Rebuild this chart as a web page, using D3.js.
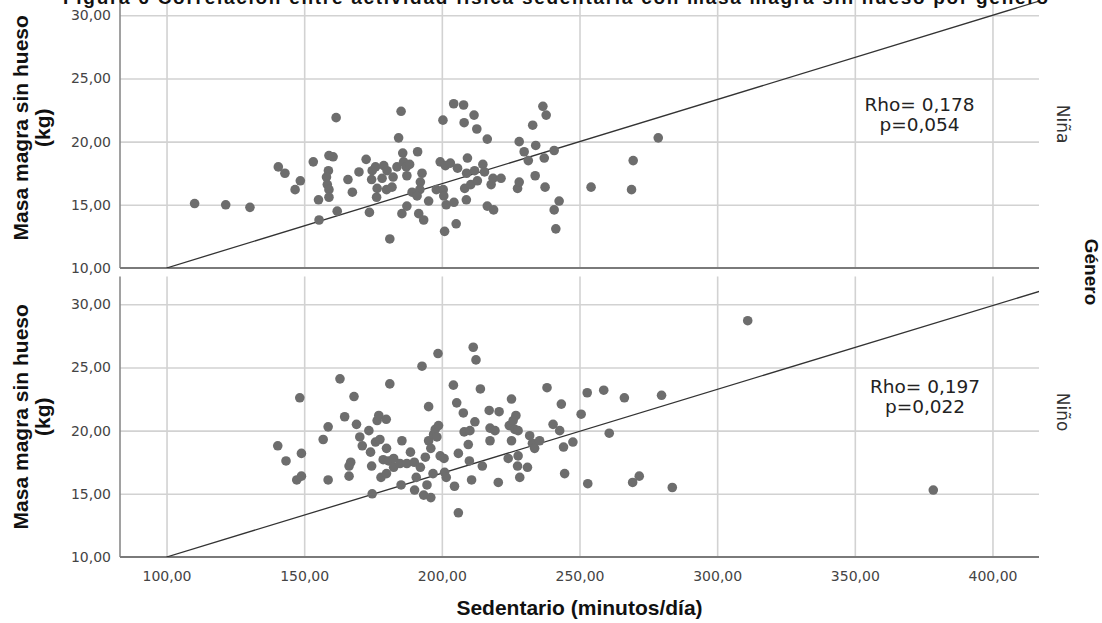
<!DOCTYPE html>
<html><head><meta charset="utf-8">
<script src="https://cdn.jsdelivr.net/npm/d3@7"></script>
<style>
html,body{margin:0;padding:0;background:#fff;}
svg{display:block;}
</style></head>
<body>
<div id="chart"></div>
<script>
// ---- Data ----
const titleText = "Figura 6 Correlación entre actividad física sedentaria con masa magra sin hueso por género";
const xTicks = [100, 150, 200, 250, 300, 350, 400];
const yTicks = [10, 15, 20, 25, 30];
const panels = ["Niña", "Niño"];
const rhoLabels = ["Rho= 0,178", "Rho= 0,197"];
const pLabels = ["p=0,054", "p=0,022"];
const rhoPos = [[373.5, 22.95], [375.5, 23.5]];

const ninaPoints = [
[110.2,15.1],[121.5,15.0],[130.3,14.8],[140.6,18.0],[143.0,17.5],[148.6,16.9],[146.7,16.2],[153.3,18.4],
[161.6,21.9],[159.0,18.9],[160.5,18.8],[158.8,17.7],[158.1,17.2],[158.4,16.6],[159.0,16.2],[159.0,15.6],
[155.2,15.4],[155.4,13.8],[162.0,14.5],[165.9,17.0],[167.5,16.0],[169.9,17.6],[172.5,18.6],[173.7,14.4],
[174.7,17.7],[175.9,18.0],[174.5,17.0],[176.5,16.3],[176.3,15.6],[178.3,17.1],[178.9,18.1],[180.1,17.7],
[179.9,16.2],[181.9,16.4],[181.1,12.3],[182.3,17.2],[183.7,18.0],[184.3,20.3],[185.2,22.4],[185.8,19.1],
[186.1,18.4],[187.1,18.0],[188.3,18.2],[187.3,17.3],[185.5,14.3],[187.3,14.9],[189.2,16.0],[191.2,19.2],
[192.8,17.5],[192.2,16.8],[192.0,16.2],[191.0,15.7],[191.6,14.3],[193.4,13.8],[195.2,15.3],[198.0,16.2],
[199.4,18.4],[200.4,21.7],[201.3,18.1],[203.1,18.3],[204.3,23.0],[207.9,22.9],[211.7,22.1],[208.1,21.5],
[212.7,21.0],[216.5,20.2],[205.7,17.9],[209.3,18.7],[209.0,17.5],[200.5,16.2],[200.7,15.7],[201.6,15.0],
[204.4,15.2],[201.0,12.9],[205.2,13.5],[208.3,16.3],[208.9,15.4],[210.5,16.6],[211.9,17.7],[212.9,16.9],
[214.9,18.2],[215.5,17.6],[216.5,14.9],[218.8,14.6],[217.9,16.6],[218.6,17.1],[221.5,17.1],[227.5,16.3],
[228.1,16.8],[228.1,20.0],[229.9,19.2],[231.4,18.5],[233.0,21.3],[234.1,19.7],[233.9,17.3],[236.7,22.8],
[237.9,22.1],[237.2,18.7],[240.8,19.3],[237.5,16.4],[242.6,15.3],[240.8,14.6],[241.4,13.1],[254.2,16.4],
[269.5,18.5],[268.9,16.2],[278.6,20.3]
];

const ninoPoints = [
[140.4,18.8],[143.4,17.6],[148.4,22.6],[149.0,18.2],[147.3,16.1],[149.0,16.4],[158.7,16.1],[156.9,19.3],
[158.7,20.3],[163.0,24.1],[164.7,21.1],[168.1,22.7],[169.0,20.5],[166.9,17.5],[166.3,17.2],[166.3,16.4],
[170.2,19.5],[171.1,18.8],[173.5,20.0],[174.1,18.3],[174.5,17.2],[174.7,15.0],[175.9,19.1],[177.5,19.3],
[176.5,20.8],[177.1,21.2],[179.8,20.9],[181.1,23.7],[179.9,18.6],[178.7,17.7],[180.7,17.6],[177.9,16.3],
[179.9,16.6],[182.5,17.1],[182.5,17.8],[185.5,19.2],[185.2,15.7],[184.8,17.4],[187.3,17.4],[188.6,18.3],
[190.0,17.5],[190.7,16.3],[190.1,15.3],[192.8,25.1],[193.4,14.9],[196.0,14.7],[194.6,15.7],[192.2,17.1],
[194.0,17.9],[195.2,21.9],[195.2,19.2],[196.0,18.6],[197.0,19.7],[197.6,20.1],[198.8,20.4],[198.2,19.5],
[196.8,16.6],[199.4,18.0],[200.8,17.8],[198.6,26.1],[211.4,26.6],[212.4,25.6],[204.2,23.6],[205.4,22.2],
[207.8,21.4],[208.1,19.9],[210.2,20.0],[209.6,18.9],[212.0,20.7],[214.0,23.3],[206.0,18.2],[201.0,16.7],
[201.6,16.3],[204.6,15.6],[206.0,13.5],[210.0,17.6],[210.8,16.1],[214.7,17.2],[217.2,21.6],[220.8,21.5],
[217.5,20.2],[219.3,20.0],[217.5,19.2],[220.5,15.9],[224.5,20.4],[225.3,22.5],[226.9,21.2],[225.9,20.8],
[226.5,20.1],[227.7,20.0],[225.3,19.2],[224.1,17.8],[227.7,18.0],[227.5,17.2],[228.3,16.3],[231.1,17.1],
[231.9,19.6],[232.9,19.0],[233.7,18.6],[235.5,19.2],[238.2,23.4],[240.4,20.5],[242.8,20.0],[243.4,22.1],
[244.2,18.7],[247.6,19.1],[244.6,16.6],[250.6,21.3],[252.8,23.0],[253.0,15.8],[258.8,23.2],[260.8,19.8],
[266.3,22.6],[269.3,15.9],[271.7,16.4],[279.8,22.8],[283.7,15.5],[311.1,28.7],[378.5,15.3]
];

// fit lines (start/end in data units)
const fitNina = [[100, 10], [420, 31.33]];
const fitNino = [[100, 10], [420, 31.22]];

const seriesPoints = [ninaPoints, ninoPoints];
const seriesFits = [fitNina, fitNino];

// ---- Layout ----
const W = 1102, H = 623;
const left = 120, right = 1039;
const panelTop = [-12.5, 276.5];
const panelH = 280.5;

const svg = d3.select("#chart").append("svg").attr("width", W).attr("height", H)
  .style("font-family", "'DejaVu Sans', sans-serif");
svg.append("rect").attr("width", W).attr("height", H).attr("fill", "#fff");

const x = d3.scaleLinear().domain([83.1, 416.9]).range([left, right]);

panels.forEach((name, i) => {
  const top = panelTop[i];
  const y = d3.scaleLinear().domain([10, 32.2]).range([top + panelH, top]);
  const g = svg.append("g");

  const clipId = "clip" + i;
  svg.append("clipPath").attr("id", clipId).append("rect")
    .attr("x", left).attr("y", top).attr("width", right - left).attr("height", panelH);

  // vertical grid
  g.append("g").attr("transform", `translate(0,${top + panelH})`)
    .call(d3.axisBottom(x).tickValues(xTicks).tickSize(-panelH).tickFormat(""))
    .call(s => s.select(".domain").remove())
    .call(s => s.selectAll(".tick line").attr("stroke", "#d2d2d2").attr("stroke-width", 1.6));

  // horizontal grid
  g.append("g").attr("transform", `translate(${left},0)`)
    .call(d3.axisLeft(y).tickValues(yTicks.filter(v => v > 10)).tickSize(-(right - left)).tickFormat(""))
    .call(s => s.select(".domain").remove())
    .call(s => s.selectAll(".tick line").attr("stroke", "#d2d2d2").attr("stroke-width", 1.6));

  // y tick labels
  g.append("g").attr("transform", `translate(${left},0)`)
    .call(d3.axisLeft(y).tickValues(yTicks).tickSize(0).tickPadding(9)
      .tickFormat(d => d3.format(".2f")(d).replace(".", ",")))
    .call(s => s.select(".domain").remove())
    .call(s => s.selectAll("text").attr("fill", "#444").style("font-size", "14px")
      .style("font-family", "'DejaVu Sans', sans-serif"));

  // left spine
  g.append("line").attr("x1", left).attr("x2", left).attr("y1", top).attr("y2", top + panelH)
    .attr("stroke", "#8a8a8a").attr("stroke-width", 1.6);
  // bottom axis line
  g.append("line").attr("x1", left).attr("x2", right).attr("y1", top + panelH).attr("y2", top + panelH)
    .attr("stroke", "#7a7a7a").attr("stroke-width", 2);

  // fit line
  const line = d3.line().x(d => x(d[0])).y(d => y(d[1]));
  g.append("path").datum(seriesFits[i]).attr("d", line)
    .attr("clip-path", `url(#${clipId})`)
    .attr("fill", "none").attr("stroke", "#333").attr("stroke-width", 1.3);

  // points
  g.append("g").selectAll("circle").data(seriesPoints[i]).join("circle")
    .attr("cx", d => x(d[0])).attr("cy", d => y(d[1])).attr("r", 4.8)
    .attr("fill", "#6d6d6d");

  // annotation
  const ax = x(rhoPos[i][0]), ay = y(rhoPos[i][1]);
  const t = g.append("text").attr("x", ax).attr("y", ay).attr("text-anchor", "middle")
    .style("font-size", "18.5px").attr("fill", "#222");
  t.append("tspan").attr("x", ax).attr("dy", "0.35em").text(rhoLabels[i]);
  t.append("tspan").attr("x", ax).attr("dy", 20).text(pLabels[i]);

  // y title (two lines)
  const cy = top + panelH / 2;
  g.append("text").attr("transform", `translate(21,${cy}) rotate(-90)`)
    .attr("text-anchor", "middle").attr("dy", "0.35em")
    .style("font-family", "'Liberation Sans', Arial, sans-serif").style("font-weight", "bold")
    .style("font-size", "21px").attr("fill", "#111").text("Masa magra sin hueso");
  g.append("text").attr("transform", `translate(43,${cy}) rotate(-90)`)
    .attr("text-anchor", "middle").attr("dy", "0.35em")
    .style("font-family", "'Liberation Sans', Arial, sans-serif").style("font-weight", "bold")
    .style("font-size", "21px").attr("fill", "#111").text("(kg)");

  // panel label on right
  g.append("text").attr("transform", `translate(1063,${i === 0 ? 124 : 412}) rotate(90)`)
    .attr("text-anchor", "middle").attr("dy", "0.35em")
    .style("font-size", "17px").attr("fill", "#333").text(name);
});

// x tick labels
svg.append("g").attr("transform", `translate(0,${panelTop[1] + panelH})`)
  .call(d3.axisBottom(x).tickValues(xTicks).tickSize(0).tickPadding(14)
    .tickFormat(d => d3.format(".2f")(d).replace(".", ",")))
  .call(s => s.select(".domain").remove())
  .call(s => s.selectAll("text").attr("fill", "#444").style("font-size", "14px")
    .style("font-family", "'DejaVu Sans', sans-serif"));

// x title
svg.append("text").attr("x", (left + right) / 2).attr("y", 608).attr("dy", "0.35em")
  .attr("text-anchor", "middle")
  .style("font-family", "'Liberation Sans', Arial, sans-serif").style("font-weight", "bold")
  .style("font-size", "21px").attr("fill", "#111").text("Sedentario (minutos/día)");

// Género legend title
svg.append("text").attr("transform", `translate(1092,272) rotate(90)`)
  .attr("text-anchor", "middle").attr("dy", "0.35em")
  .style("font-family", "'Liberation Sans', Arial, sans-serif").style("font-weight", "bold")
  .style("font-size", "19px").attr("fill", "#111").text("Género");

// partially visible document title (cropped at the top edge, as in the source image)
svg.append("text").attr("x", 63).attr("y", 4)
  .attr("textLength", 985).attr("lengthAdjust", "spacing")
  .style("font-family", "'Liberation Sans', Arial, sans-serif").style("font-weight", "bold")
  .style("font-size", "19px").attr("fill", "#111").text(titleText);
</script>
</body></html>
